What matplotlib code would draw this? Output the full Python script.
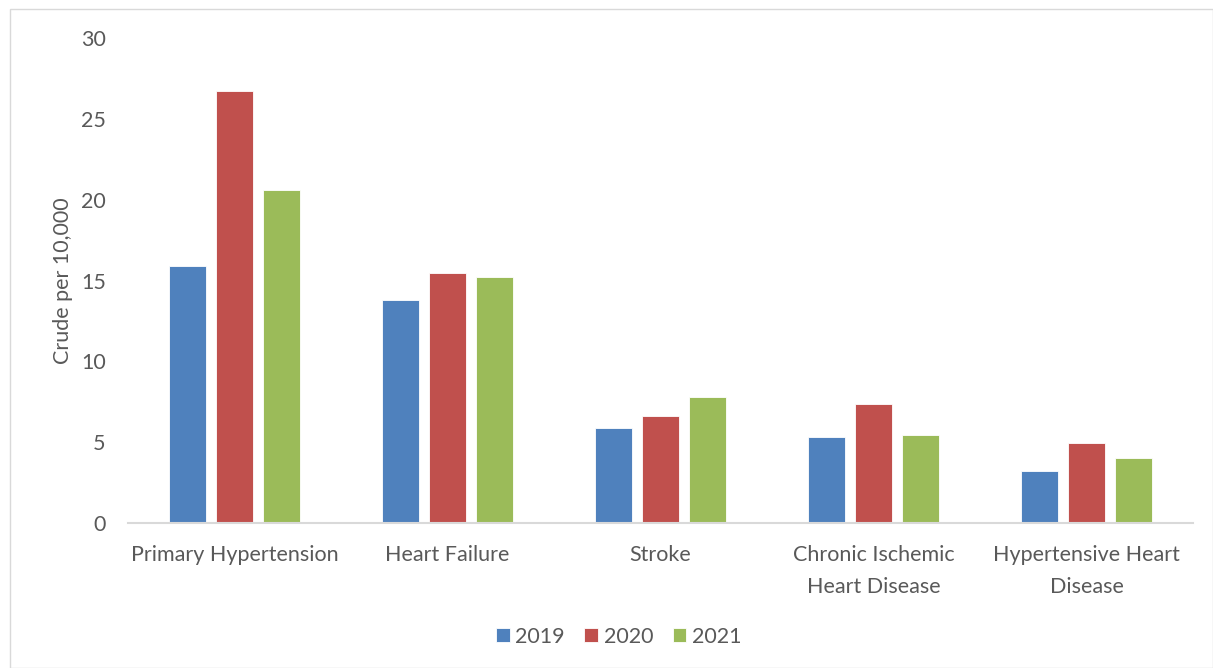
import numpy as np
import matplotlib.pyplot as plt
from matplotlib.patches import Rectangle

categories = ["Primary Hypertension", "Heart Failure", "Stroke",
              "Chronic Ischemic\nHeart Disease", "Hypertensive Heart\nDisease"]
years = ["2019", "2020", "2021"]
v2019 = [15.9, 13.8, 5.9, 5.3, 3.2]
v2020 = [26.7, 15.45, 6.65, 7.35, 4.95]
v2021 = [20.6, 15.2, 7.8, 5.45, 4.0]
colors = ["#4f81bd", "#c0504d", "#9bbb59"]

plt.rcParams['font.family'] = ['Lato', 'DejaVu Sans']
txt = "#595959"
fs = 15.5

fig = plt.figure(figsize=(12.13, 6.68), dpi=100)
ax = fig.add_axes([0.1055, 0.217, 0.878, 0.726])

x = np.arange(len(categories))
w = 0.174
off = 0.222
for i, (vals, yr) in enumerate(zip([v2019, v2020, v2021], years)):
    ax.bar(x + (i - 1) * off, vals, w, color=colors[i], label=yr,
           edgecolor="white", linewidth=0.6, zorder=2)

ax.set_xlim(-0.5, len(categories) - 0.5)
ax.set_ylim(0, 30)
ax.set_yticks(range(0, 31, 5))
ax.set_xticks(x)
ax.set_xticklabels(categories, fontsize=fs, color=txt, linespacing=1.75)
ax.tick_params(axis='both', length=0, labelsize=fs, colors=txt)
ax.tick_params(axis='y', pad=16)
ax.tick_params(axis='x', pad=16)
ax.set_ylabel("Crude per 10,000", fontsize=fs, color=txt, labelpad=6)

for s in ["top", "right", "left"]:
    ax.spines[s].set_visible(False)
ax.spines["bottom"].set_color("#d9d9d9")
ax.spines["bottom"].set_linewidth(1.5)

ax.legend(loc="center", bbox_to_anchor=(0.51, 0.047), bbox_transform=fig.transFigure,
          ncol=3, frameon=False, fontsize=fs, labelcolor=txt,
          handlelength=0.65, handleheight=0.65, handletextpad=0.25, columnspacing=0.9)

fig.patches.append(Rectangle((0.008, 0.0), 0.992, 0.987, transform=fig.transFigure,
                             fill=False, edgecolor="#d9d9d9", linewidth=1))

fig.savefig("out.png", dpi=100)
